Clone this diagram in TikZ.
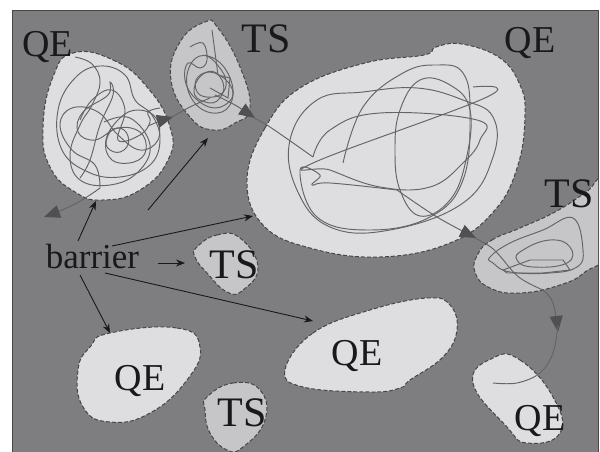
\documentclass[tikz,border=0pt]{standalone}
\usepackage{fontspec}
\setmainfont{Liberation Serif}
\usetikzlibrary{arrows.meta}
\definecolor{bgc}{RGB}{126,126,128}
\definecolor{framec}{RGB}{70,70,70}
\definecolor{qefill}{RGB}{222,222,224}
\definecolor{tsfill}{RGB}{198,198,200}
\definecolor{edgec}{RGB}{70,70,70}
\definecolor{trajc}{RGB}{100,100,103}
\definecolor{tipc}{RGB}{80,80,82}
\definecolor{arrc}{RGB}{25,25,25}
\begin{document}
\begin{tikzpicture}[x=1pt,y=-1pt,
  qe/.style={fill=qefill,draw=edgec,dash pattern=on 4pt off 2pt,line width=1pt},
  ts/.style={qe,fill=tsfill},
  traj/.style={draw=trajc,line width=0.95pt},
  trajtip/.style={traj,-{Triangle[length=16pt,width=13pt,color=tipc]}},
  barr/.style={draw=arrc,line width=0.9pt,-{Stealth[length=9pt,width=7pt]}},
  lab/.style={inner sep=0pt,anchor=base,text=black!90},
  bigq/.style={lab,font=\fontsize{38}{40}\selectfont},
  bigt/.style={lab,font=\fontsize{42}{44}\selectfont}]
\useasboundingbox (0,0) rectangle (600,452);
\fill[white] (0,0) rectangle (600,452);
\fill[bgc] (12,10) rectangle (598,452);
\draw[framec,line width=0.8pt] (12,452) -- (12,10) -- (598,10) -- (598,452);

\begin{scope}
\clip (12,10) rectangle (598,452);
% blobs
\draw[qe] plot[smooth cycle,tension=0.8] coordinates {(73,53) (113,60) (147,87) (170,127) (168,160) (140,190) (103,200) (75,192) (50,167) (43,127) (53,77)};
\draw[ts] plot[smooth cycle,tension=0.8] coordinates {(205,22) (218,28) (240,67) (250,108) (235,123) (213,130) (190,117) (171,80) (180,42)};
\draw[qe] plot[smooth cycle,tension=0.7] coordinates {(247,180) (265,128) (300,88) (365,63) (424,55) (436,47) (462,44) (500,58) (520,85) (525,115) (518,165) (495,210) (450,243) (380,257) (310,248) (263,225)};
\draw[ts] plot[smooth cycle,tension=0.8] coordinates {(478,254) (492,240) (520,228) (555,212) (585,193) (605,180) (605,250) (585,272) (560,285) (520,293) (490,288) (475,272)};
\draw[ts] plot[smooth cycle,tension=0.8] coordinates {(197,247) (217,235) (240,238) (258,267) (243,290) (227,292) (207,273) (195,257)};
\draw[qe] plot[smooth cycle,tension=0.8] coordinates {(110,333) (177,328) (200,347) (187,380) (150,413) (110,422) (83,407) (78,370) (90,347)};
\draw[ts] plot[smooth cycle,tension=0.8] coordinates {(207,397) (233,383) (260,390) (265,420) (243,447) (227,450) (210,433) (205,410)};
\draw[qe] plot[smooth cycle,tension=0.7] coordinates {(285,370) (313,333) (370,310) (427,298) (450,305) (457,330) (443,357) (410,380) (400,388) (370,392) (303,387)};
\draw[qe] plot[smooth cycle,tension=0.8] coordinates {(493,358) (520,360) (553,397) (560,433) (527,443) (507,427) (473,383)};

% trajectory: top-left QE
\draw[trajtip] plot[smooth,tension=0.7] coordinates {(100,188) (75,204) (44,217)};
\draw[traj] plot[smooth,tension=0.7] coordinates {(100,188) (95,165) (72,150) (60,125) (72,108) (98,112) (118,135) (140,150) (158,140) (156,118) (138,110) (120,118) (106,140) (112,160) (134,162) (146,150) (140,132) (118,128) (95,140) (78,132) (83,112) (108,95) (110,82) (113,95) (100,125) (90,160) (80,178)};
\draw[traj] plot[smooth,tension=0.7] coordinates {(75,57) (92,64) (100,82) (92,105) (80,125) (70,155) (80,180) (110,185) (138,172) (150,145) (130,118) (104,122)};
\draw[traj] plot[smooth cycle,tension=0.7] coordinates {(62,150) (58,110) (75,78) (100,66) (125,75) (135,100) (152,115) (160,140) (150,165) (120,177) (88,172)};
\draw[traj] plot[smooth cycle,tension=0.9] coordinates {(117,128) (128,136) (124,150) (110,150) (107,138)};
\draw[traj] plot[smooth,tension=0.7] coordinates {(80,120) (92,100) (112,90) (125,110) (118,140) (140,135) (150,122) (148,112) (160,108)};
\draw[trajtip] plot[smooth,tension=0.6] coordinates {(148,126) (160,121) (173,117)};
% trajectory: top TS
\draw[traj] plot[smooth,tension=0.6] coordinates {(172,117) (190,107) (210,98)};
\draw[traj] plot[smooth,tension=0.7] coordinates {(190,47) (203,43) (207,60) (200,68) (188,63) (185,80) (195,98) (215,108) (232,98) (228,82) (210,72) (196,80) (200,95) (220,95) (226,80) (215,62) (205,55)};
\draw[traj] plot[smooth cycle,tension=0.7] coordinates {(192,62) (208,56) (226,70) (233,95) (222,112) (200,108) (187,86)};
\draw[traj] plot[smooth cycle,tension=0.9] coordinates {(207,72) (222,80) (220,98) (205,102) (194,90)};
\draw[traj] (212,30) -- (214,45) -- (218,75) -- (230,78) -- (228,98) -- (210,88);
\draw[trajtip] plot[smooth,tension=0.6] coordinates {(215,95) (235,105) (255,118)};
% trajectory: big QE
\draw[traj] plot[smooth,tension=0.6] coordinates {(254,118) (270,127) (313,157)};
\draw[traj] plot[smooth,tension=0.7] coordinates {(313,157) (330,130) (380,113) (477,120) (480,140) (463,163) (430,187) (380,187) (330,170) (313,163) (487,97) (473,87)};
\draw[traj] plot[smooth cycle,tension=0.7] coordinates {(290,140) (297,190) (330,227) (390,230) (463,203) (493,157) (493,117) (463,100) (417,88) (363,92) (317,100)};
\draw[traj] plot[smooth cycle,tension=0.7] coordinates {(400,110) (420,80) (450,85) (470,110) (466,160) (450,200) (420,216) (400,190) (395,150)};
\draw[traj] plot[smooth,tension=0.7] coordinates {(343,163) (363,107) (403,73) (437,65) (463,73) (470,113) (463,180) (430,217) (370,230) (317,217) (300,170) (320,175) (312,185) (330,183) (397,190)};
\draw[trajtip] plot[smooth,tension=0.6] coordinates {(397,190) (437,217) (476,238)};
% trajectory: right TS
\draw[traj] plot[smooth,tension=0.6] coordinates {(475,238) (492,248) (505,262)};
\draw[traj] plot[smooth cycle,tension=0.7] coordinates {(490,257) (510,243) (543,230) (573,218) (583,250) (577,267) (550,273) (510,272) (493,263)};
\draw[traj] plot[smooth cycle,tension=0.8] coordinates {(523,250) (550,240) (570,247) (567,263) (533,267) (517,260)};
\draw[traj] (503,270) -- (530,260) -- (563,260) -- (570,270) -- (543,273) -- (507,273) -- cycle;
\draw[traj] plot[smooth,tension=0.7] coordinates {(505,262) (520,278) (543,290)};
% trajectory: to bottom-right QE
\draw[trajtip] plot[smooth,tension=0.6] coordinates {(543,290) (553,303) (558,332)};
\draw[traj] plot[smooth,tension=0.6] coordinates {(558,325) (553,353) (540,373) (517,383) (493,383)};
\end{scope}

% labels
\node[bigq] (qe1) at (47.5,57) {QE};
\node[bigt] (ts1) at (266,53) {TS};
\node[bigq] (qe2) at (530,53) {QE};
\node[bigt] (ts2) at (569,207) {TS};
\node[bigt] (ts3) at (234,278) {TS};
\node[bigq] (qe3) at (140,390) {QE};
\node[bigt] (ts4) at (242,426) {TS};
\node[bigq] (qe4) at (357,365) {QE};
\node[bigq] (qe5) at (540,430) {QE};
\node[lab,font=\fontsize{35}{37}\selectfont] (barrier) at (92.5,268) {barrier};

% barrier arrows
\coordinate (a1s) at (78,241);  \coordinate (a1e) at (96,201);
\coordinate (a2s) at (148,210); \coordinate (a2e) at (208,138);
\coordinate (a3s) at (112,246); \coordinate (a3e) at (253,216);
\coordinate (a4s) at (158,263); \coordinate (a4e) at (185,263);
\coordinate (a5s) at (80,275);  \coordinate (a5e) at (110,333);
\coordinate (a6s) at (105,273); \coordinate (a6e) at (313,321);
\draw[barr] (a1s) -- (a1e);
\draw[barr] (a2s) -- (a2e);
\draw[barr] (a3s) -- (a3e);
\draw[barr] (a4s) -- (a4e);
\draw[barr] (a5s) -- (a5e);
\draw[barr] (a6s) -- (a6e);
\end{tikzpicture}
\end{document}
